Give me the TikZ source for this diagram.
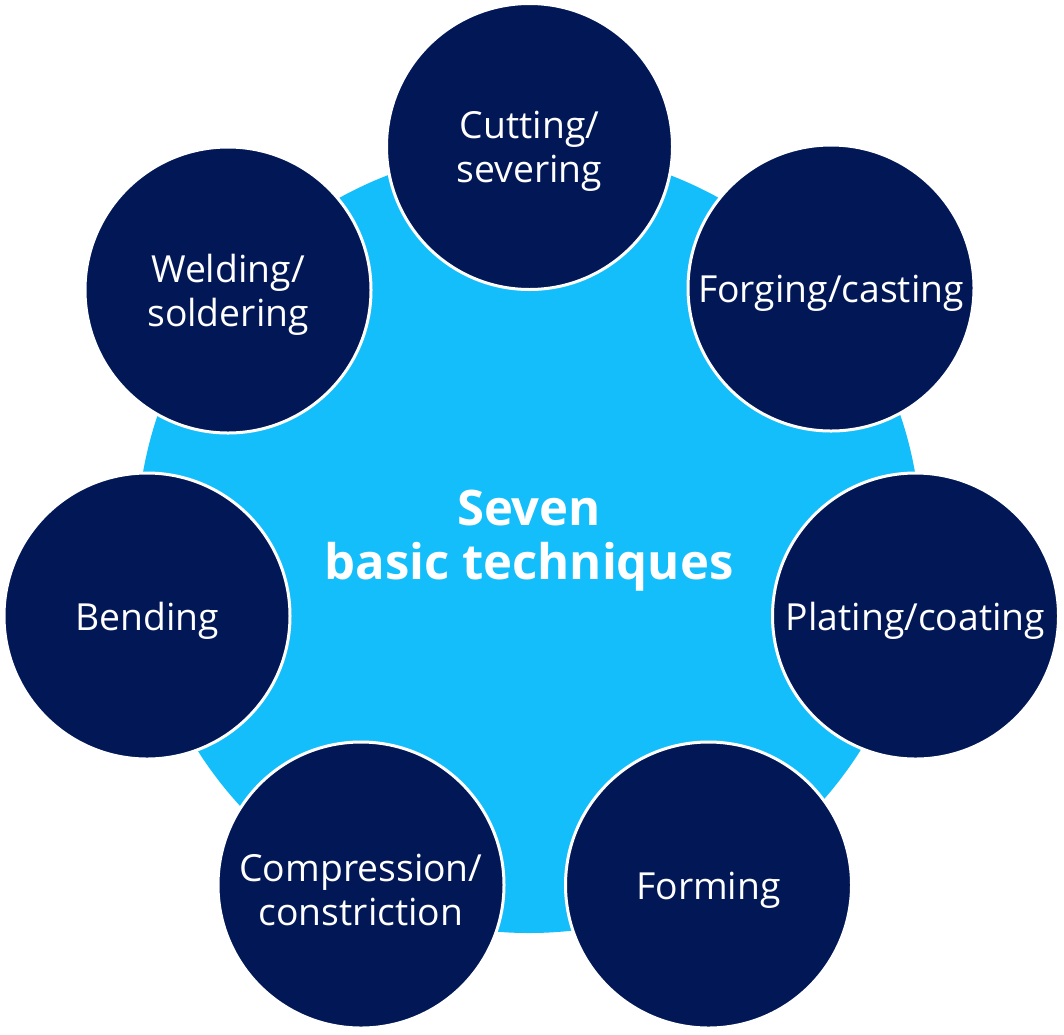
\documentclass[tikz,border=0pt]{standalone}
\usepackage{fontspec}
\setmainfont{Open Sans}
\definecolor{navy}{HTML}{021756}
\definecolor{sky}{HTML}{13BEFA}
\begin{document}
\begin{tikzpicture}[x=1pt,y=-1pt,
  hub/.style={circle,fill=sky,minimum size=784pt,inner sep=0pt},
  title/.style={text=white,align=center,font=\fontsize{49}{54}\selectfont\bfseries},
  tech/.style={circle,fill=navy,draw=white,line width=3pt,minimum size=286pt,inner sep=0pt},
  lab/.style={text=white,align=center,font=\fontsize{37.3}{44}\selectfont,yshift=-5pt}]
\useasboundingbox (0,0) rectangle (1064,1034);
\node[hub] (hub) at (529,541) {};
\node[title] (hubt) at (hub.center) {Seven\\basic techniques};
\node[tech] (cut) at (529.5,146.5) {};
\node[tech] (forg) at (831,288) {};
\node[tech] (plat) at (915.5,616) {};
\node[tech] (form) at (708.5,885) {};
\node[tech] (comp) at (361,885) {};
\node[tech] (bend) at (147,616) {};
\node[tech] (weld) at (228,290) {};
\node[lab] (cutt) at (cut.center) {Cutting/\\severing};
\node[lab] (forgt) at (forg.center) {Forging/casting};
\node[lab] (platt) at (plat.center) {Plating/coating};
\node[lab] (formt) at (form.center) {Forming};
\node[lab] (compt) at (comp.center) {Compression/\\constriction};
\node[lab] (bendt) at (bend.center) {Bending};
\node[lab] (weldt) at (weld.center) {Welding/\\soldering};
\end{tikzpicture}
\end{document}
